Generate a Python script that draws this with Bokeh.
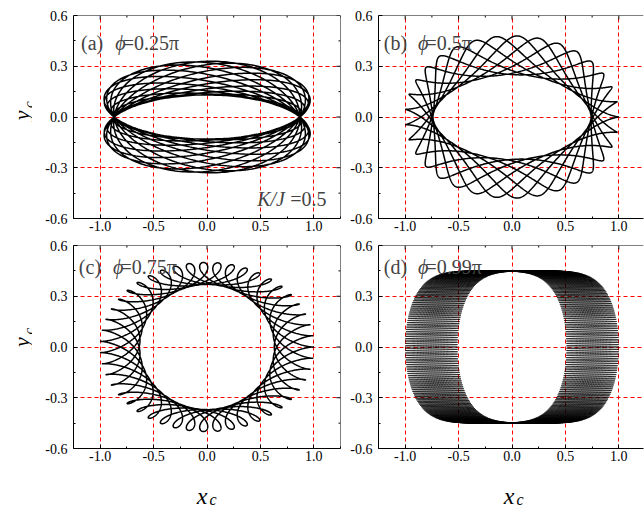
import numpy as np
from bokeh.plotting import figure
from bokeh.layouts import column, row
from bokeh.models import Range1d, FixedTicker, PrintfTickFormatter, Label, Span
from bokeh.core.properties import value
from bokeh.embed import file_html
from bokeh.resources import INLINE

# ---- values ----
panel_tags = ["(a)", "(b)", "(c)", "(d)"]
phi_texts = ["=0.25π", "=0.5π", "=0.75π", "=0.99π"]
ratio_text = ["K/J", "=0.5"]
x_ticks = [-1.0, -0.5, 0.0, 0.5, 1.0]
x_minor = [-1.25, -0.75, -0.25, 0.25, 0.75, 1.25]
y_ticks = [-0.6, -0.3, 0.0, 0.3, 0.6]
y_minor = [-0.45, -0.15, 0.15, 0.45]
# trajectory envelopes: guiding-curve semi-axes,
# oscillation amplitudes, oscillations per turn and number of turns
guide_x = [0.87, 0.87, 0.815, 0.755]
guide_y = [0.23, 0.365, 0.435, 0.505]
guide_y3 = [0.0, 0.0, 0.0, 0.055]     # flattening of the guide's top (panel d)
wobble_x = [0.42, 0.13, 0.185, 0.245]
wobble_y = [0.10, 0.115, 0.065, 0.0]
lobes_per_turn = [1 / 16, 3.125, 41 / 6, 300.0]
turns = [16, 8, 6, 1]

SERIF = "Liberation Serif"
FRAME_H = 203
Y0, Y1 = -0.6, 0.6


def trajectory(i):
    k = lobes_per_turn[i]
    n = int(turns[i] * (k + 1) * 90) + 2000
    s = np.linspace(0, 2 * np.pi * turns[i], n)
    if i == 0:
        x = guide_x[i] * np.cos(s) + wobble_x[i] * np.sin(s) * np.sin(k * s)
        y = np.sin(s) * (guide_y[i] + wobble_y[i] * np.cos(k * s))
    else:
        x = guide_x[i] * np.cos(s) + wobble_x[i] * np.cos(k * s)
        y = (guide_y[i] * np.sin(s) + guide_y3[i] * np.sin(3 * s)
             - wobble_y[i] * np.sin(k * s))
    return x, y


def make_panel(i, b_left, b_right, b_top, b_bottom, frame_w, x_end, right_side):
    X0 = -1.25
    p = figure(title=None, frame_width=frame_w, frame_height=FRAME_H,
               x_range=Range1d(X0, x_end), y_range=Range1d(Y0, Y1),
               output_backend="svg", toolbar_location=None,
               min_border_left=b_left, min_border_right=b_right,
               min_border_top=b_top, min_border_bottom=b_bottom,
               background_fill_color="white", border_fill_color="white")
    p.xaxis.ticker = FixedTicker(ticks=x_ticks, minor_ticks=x_minor)
    p.yaxis.ticker = FixedTicker(ticks=y_ticks, minor_ticks=y_minor)
    for ax in list(p.xaxis) + list(p.yaxis):
        ax.formatter = PrintfTickFormatter(format="%.1f")
        ax.major_tick_in = 4
        ax.major_tick_out = 0
        ax.minor_tick_in = 2
        ax.minor_tick_out = 0
        ax.major_tick_line_color = "black"
        ax.minor_tick_line_color = "black"
        ax.major_label_text_font = SERIF
        ax.major_label_text_font_size = "14px"
        ax.major_label_text_color = "black"
        ax.axis_line_color = "black"
        ax.axis_line_width = 1
    p.xaxis.major_label_standoff = 2
    p.yaxis.major_label_standoff = 6
    p.xgrid.ticker = FixedTicker(ticks=x_ticks)
    p.ygrid.ticker = FixedTicker(ticks=y_ticks)
    p.grid.grid_line_color = "red"
    p.grid.grid_line_dash = "4 3"
    p.grid.grid_line_width = 1
    p.outline_line_color = None

    x, y = trajectory(i)
    p.line(x, y, line_color="black", line_width=0.8 if i == 3 else 1.5)

    # frame lines and inward ticks on the top (and right) side
    p.add_layout(Span(location=Y1, dimension="width", line_color="black", line_width=1))
    ypx = (Y1 - Y0) / FRAME_H
    xpx = (x_end - X0) / frame_w
    p.segment(x0=x_ticks, y0=[Y1] * len(x_ticks), x1=x_ticks,
              y1=[Y1 - 4 * ypx] * len(x_ticks), line_color="black", line_width=1)
    p.segment(x0=x_minor, y0=[Y1] * len(x_minor), x1=x_minor,
              y1=[Y1 - 2 * ypx] * len(x_minor), line_color="black", line_width=1)
    if right_side:
        p.add_layout(Span(location=x_end, dimension="height", line_color="black", line_width=1))
        p.segment(x0=[x_end] * len(y_ticks), y0=y_ticks, x1=[x_end - 4 * xpx] * len(y_ticks),
                  y1=y_ticks, line_color="black", line_width=1)
        p.segment(x0=[x_end] * len(y_minor), y0=y_minor, x1=[x_end - 2 * xpx] * len(y_minor),
                  y1=y_minor, line_color="black", line_width=1)

    tx = -1.18 if i == 0 else -1.20
    ty = 0.435 if i < 2 else 0.47
    p.add_layout(Label(x=tx, y=ty, text=panel_tags[i], text_font=SERIF,
                       text_font_size="20px", text_baseline="alphabetic"))
    p.add_layout(Label(x=tx + 0.32, y=ty, text="ϕ", text_font=SERIF,
                       text_font_style="italic", text_font_size="20px",
                       text_baseline="alphabetic"))
    p.add_layout(Label(x=tx + 0.39, y=ty, text=phi_texts[i], text_font=SERIF,
                       text_font_size="20px", text_baseline="alphabetic"))
    if i == 0:
        p.add_layout(Label(x=0.47, y=-0.482, text=ratio_text[0], text_font=SERIF,
                           text_font_style="italic", text_font_size="20px",
                           text_baseline="alphabetic"))
        p.add_layout(Label(x=0.78, y=-0.482, text=ratio_text[1], text_font=SERIF,
                           text_font_size="20px", text_baseline="alphabetic"))
    return p


def strip(width, height):
    s = figure(title=None, width=width, height=height, x_range=Range1d(0, width),
               y_range=Range1d(0, height), x_axis_type=None, y_axis_type=None,
               output_backend="svg", toolbar_location=None, min_border=0,
               background_fill_color="white", border_fill_color="white")
    s.outline_line_color = None
    s.grid.visible = False
    return s


def y_label_strip(height):
    s = strip(32, height)
    s.text(x=[21.0], y=[120.5], text=["y"], angle=np.pi / 2,
           text_font=value(SERIF), text_font_style="italic", text_font_size="22px",
           text_align="center", text_baseline="alphabetic", text_color="black")
    s.text(x=[28.0], y=[133.0], text=["c"], angle=np.pi / 2,
           text_font=value(SERIF), text_font_style="italic", text_font_size="15px",
           text_align="center", text_baseline="alphabetic", text_color="black")
    return s


def x_label_strip():
    s = strip(644, 39)
    s.text(x=[201.5, 508.5], y=[11, 11], text=["x", "x"],
           text_font=value(SERIF), text_font_style="italic", text_font_size="24px",
           text_align="center", text_baseline="alphabetic", text_color="black")
    s.text(x=[212.5, 519.5], y=[7, 7], text=["c", "c"],
           text_font=value(SERIF), text_font_style="italic", text_font_size="16px",
           text_align="center", text_baseline="alphabetic", text_color="black")
    return s


pa = make_panel(0, 41, 4, 15, 19, 267, 1.25, True)
pb = make_panel(1, 34, 1, 15, 19, 265, 1.231, False)
pc = make_panel(2, 41, 4, 8, 19, 267, 1.25, True)
pd = make_panel(3, 34, 1, 8, 19, 265, 1.231, False)

layout = column(row(y_label_strip(237), pa, pb),
                row(y_label_strip(230), pc, pd),
                x_label_strip())

with open("out.html", "w") as f:
    f.write(file_html(layout, INLINE))
